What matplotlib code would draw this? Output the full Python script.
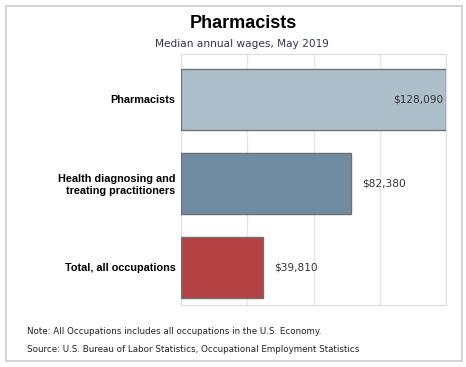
import numpy as np
import matplotlib
matplotlib.use("Agg")
from matplotlib import pyplot as plt
from matplotlib.patches import Rectangle

# data
categories = ["Pharmacists", "Health diagnosing and\ntreating practitioners", "Total, all occupations"]
wages = [128090, 82380, 39810]
wage_labels = ["$128,090", "$82,380", "$39,810"]
colors = ["#adbfcb", "#6f8ca3", "#b54242"]

W, H = 466, 367
fig = plt.figure(figsize=(W/100, H/100), dpi=100)

# outer frame
fig.patches.append(Rectangle((6/W, 6/H), 456/W, 355/H, transform=fig.transFigure,
                             fill=False, edgecolor="#cccccc", linewidth=1.2))

ax = fig.add_axes([181/W, 1-305/H, 265/W, 251/H])
y = np.arange(len(categories))
ax.barh(y, wages, height=0.73, color=colors, edgecolor="#707070", linewidth=1, zorder=3)
ax.set_xlim(0, max(wages))
ax.set_ylim(len(categories)-1+0.45, -0.54)
ax.set_xticks(np.linspace(0, max(wages), 5))
ax.set_xticklabels([])
ax.tick_params(axis="both", length=0)
ax.grid(True, axis="x", color="#e6e6e6", linewidth=1, zorder=0)
for s in ax.spines.values():
    s.set_color("#dddddd")
ax.set_yticks(y)
ax.set_yticklabels(categories, fontfamily="Liberation Sans", fontweight="bold", fontsize=7.8)
ax.tick_params(axis="y", pad=4)

for i, (v, lab) in enumerate(zip(wages, wage_labels)):
    if i == 0:
        ax.text(v - 0.01*max(wages), i, lab, ha="right", va="center", fontsize=7.6, color="#333333", zorder=4)
    else:
        ax.text(v + 0.04*max(wages), i, lab, ha="left", va="center", fontsize=7.6, color="#333333", zorder=4)

fig.text(243/W, 1-23/H, "Pharmacists", ha="center", va="center", fontsize=13,
         fontweight="bold", fontfamily="Liberation Sans")
fig.text(242/W, 1-44/H, "Median annual wages, May 2019", ha="center", va="center",
         fontsize=7.6, color="#333355")

fig.text(27/W, 1-331/H, "Note: All Occupations includes all occupations in the U.S. Economy.",
         ha="left", va="center", fontsize=6.35, color="#222222")
fig.text(27/W, 1-350/H, "Source: U.S. Bureau of Labor Statistics, Occupational Employment Statistics",
         ha="left", va="center", fontsize=6.35, color="#222222")

fig.savefig("out.png", dpi=100)
